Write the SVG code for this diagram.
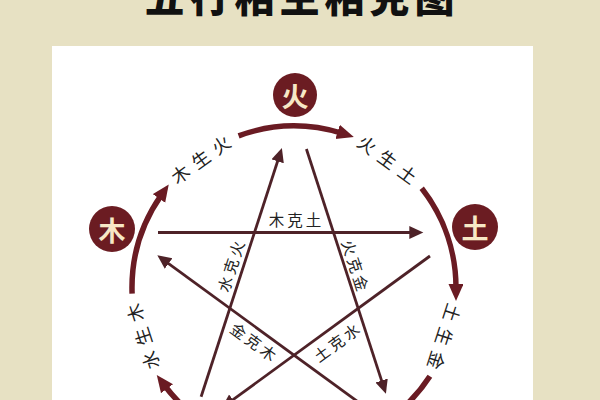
<svg xmlns="http://www.w3.org/2000/svg" width="600" height="400" viewBox="0 0 600 400">
  <style>
    .node circle { fill: #6b1c22; }
    .node text { font-family: "Noto Sans CJK SC", "Noto Sans", sans-serif; font-size: 27px; font-weight: 700; fill: #f7e8c6; text-anchor: middle; dominant-baseline: central; }
    .ring { fill: none; stroke: #6a1b23; stroke-width: 5.5; marker-end: url(#bigArrow); }
    .star { fill: none; stroke: #4e2228; stroke-width: 2.8; marker-end: url(#smallArrow); }
    .sheng { font-family: "Noto Sans CJK SC", "Noto Sans", sans-serif; font-size: 18px; fill: #222; text-anchor: middle; dominant-baseline: central; letter-spacing: 7px; }
    .ke { font-family: "Noto Sans CJK SC", "Noto Sans", sans-serif; font-size: 15.5px; fill: #222; text-anchor: middle; dominant-baseline: central; letter-spacing: 3px; }
    .title { font-family: "Noto Sans CJK SC", "Noto Sans", sans-serif; font-size: 40px; font-weight: 900; fill: #111; text-anchor: middle; letter-spacing: 5px; }
  </style>
  <defs>
    <marker id="bigArrow" markerUnits="userSpaceOnUse" markerWidth="18" markerHeight="16" refX="4" refY="7.5" orient="auto">
      <path d="M0,0 L17,7.5 L0,15 z" fill="#6a1b23"/>
    </marker>
    <marker id="smallArrow" markerUnits="userSpaceOnUse" markerWidth="16" markerHeight="14" refX="3" refY="6.5" orient="auto">
      <path d="M0,0 L14,6.5 L0,13 z" fill="#4e2228"/>
    </marker>
  </defs>
  <rect x="0" y="0" width="600" height="400" fill="#e7e1c3"/>
  <rect x="52" y="46" width="481" height="360" fill="#ffffff"/>
  <text class="title" x="302" y="12">五行相生相克图</text>

  <g id="connectors">
    <path class="ring" d="M238.6,135.8 A162,162 0 0 1 341.4,133.1"/>
    <path class="ring" d="M421.7,188.3 A162,162 0 0 1 456,288"/>
    <path class="ring" d="M429.9,376.2 A162,162 0 0 1 346.7,441.2"/>
    <path class="ring" d="M252.1,444.5 A162,162 0 0 1 164.6,385.5"/>
    <path class="ring" d="M132.1,293.7 A162,162 0 0 1 161.3,195.1"/>

    <path class="star" d="M158,232.5 L412.3,232.5"/>
    <path class="star" d="M306.4,149 L382.5,383.4"/>
    <path class="star" d="M430,256 L230.5,401.5"/>
    <path class="star" d="M381.8,419.2 L166.2,261.8"/>
    <path class="star" d="M201.1,396.8 L278.5,158.5"/>

    <text class="sheng" transform="translate(200,158.6) rotate(-36)" x="3.5" y="0">木生火</text>
    <text class="sheng" transform="translate(388,158.6) rotate(36)" x="3.5" y="0">火生土</text>
    <text class="sheng" transform="translate(445,337) rotate(108)" x="3.5" y="0">土生金</text>
    <text class="sheng" transform="translate(142,337) rotate(-108)" x="3.5" y="0">水生木</text>

    <text class="ke" transform="translate(295,219)" x="1.5" y="0">木克土</text>
    <text class="ke" transform="translate(356,265) rotate(72)" x="1.5" y="0">火克金</text>
    <text class="ke" transform="translate(336,342) rotate(-36)" x="1.5" y="0">土克水</text>
    <text class="ke" transform="translate(254,341) rotate(36)" x="1.5" y="0">金克木</text>
    <text class="ke" transform="translate(230,266) rotate(-72)" x="1.5" y="0">水克火</text>
  </g>

  <g id="node-huo" class="node">
    <circle cx="295" cy="95" r="22"/>
    <text x="295" y="95">火</text>
  </g>
  <g id="node-mu" class="node">
    <circle cx="112" cy="229" r="23"/>
    <text x="112" y="229">木</text>
  </g>
  <g id="node-tu" class="node">
    <circle cx="475" cy="227" r="23"/>
    <text x="475" y="227">土</text>
  </g>
</svg>
